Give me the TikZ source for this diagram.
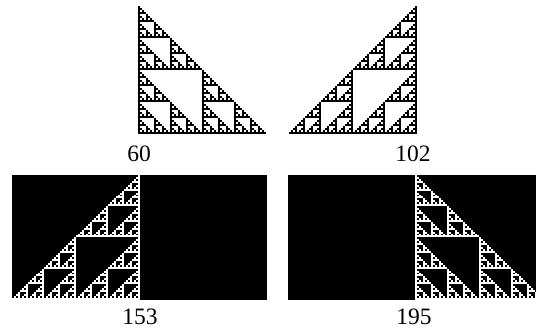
\documentclass[tikz,border=0pt]{standalone}
\usepackage{fontspec}
\setmainfont{Liberation Serif}
\newcommand\sierp[3]{%
  \ifnum#1=1
    \fill[cell] (#2,#3) rectangle +(1,1);
  \else
    \edef\sierpnext{%
      \noexpand\sierp{\the\numexpr#1/2\relax}{#2}{#3}%
      \noexpand\sierp{\the\numexpr#1/2\relax}{#2}{\the\numexpr#3+#1/2\relax}%
      \noexpand\sierp{\the\numexpr#1/2\relax}{\the\numexpr#2+#1/2\relax}{\the\numexpr#3+#1/2\relax}}%
    \expandafter\sierpnext
  \fi}
\begin{document}
\begin{tikzpicture}[x=1pt,y=-1pt,cell/.style={fill=black},
    lab/.style={font=\fontsize{23.5}{28}\selectfont,inner sep=0pt}]
  \clip (0,0) rectangle (536,333);
  % rule 60
  \begin{scope}[shift={(138,6)},x=2pt,y=-2pt]
    \sierp{64}{0}{0}
  \end{scope}
  % rule 102
  \begin{scope}[shift={(417,6)},x=-2pt,y=-2pt]
    \sierp{64}{0}{0}
  \end{scope}
  % rule 153
  \fill (12,175) rectangle (267,300);
  \begin{scope}[shift={(140,175)},x=-2pt,y=-1.95pt,cell/.style={fill=white}]
    \sierp{64}{0}{0}
  \end{scope}
  % rule 195
  \fill (288,175) rectangle (543,300);
  \begin{scope}[shift={(415,175)},x=2pt,y=-1.95pt,cell/.style={fill=white}]
    \sierp{64}{0}{0}
  \end{scope}
  \node[lab] (lab60) at (139,154) {60};
  \node[lab] (lab102) at (413,154) {102};
  \node[lab] (lab153) at (140,317) {153};
  \node[lab] (lab195) at (414,317) {195};
\end{tikzpicture}
\end{document}
